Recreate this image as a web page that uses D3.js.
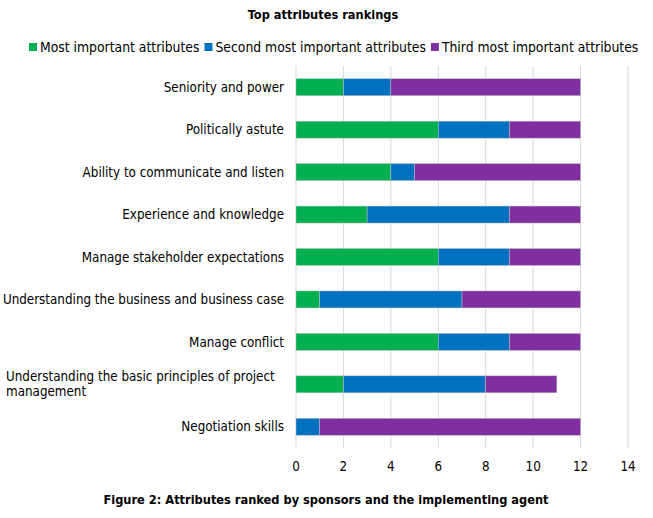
<!DOCTYPE html>
<html>
<head>
<meta charset="utf-8">
<script src="https://cdn.jsdelivr.net/npm/d3@7"></script>
<style>
  body { margin: 0; background: #fff; }
  text { font-family: "DejaVu Sans Condensed", "DejaVu Sans", sans-serif; fill: #000; }
</style>
</head>
<body>
<div id="chart"></div>
<script>
const categories = [
  "Seniority and power",
  "Politically astute",
  "Ability to communicate and listen",
  "Experience and knowledge",
  "Manage stakeholder expectations",
  "Understanding the business and business case",
  "Manage conflict",
  "Understanding the basic principles of project management",
  "Negotiation skills"
];
const seriesNames = ["Most important attributes", "Second most important attributes", "Third most important attributes"];
const most = [2, 6, 4, 3, 6, 1, 6, 2, 0];
const second = [2, 3, 1, 6, 3, 6, 3, 6, 1];
const third = [8, 3, 7, 3, 3, 5, 3, 3, 11];
const xTicks = [0, 2, 4, 6, 8, 10, 12, 14];
const colors = ["#00B050", "#0070C0", "#7F2FA0"];

const width = 653, height = 518;
const margin = {top: 66, right: 25, bottom: 70, left: 296};

const svg = d3.select("#chart").append("svg")
  .attr("width", width).attr("height", height);

const x = d3.scaleLinear().domain([0, 14]).range([margin.left, 628]);
const y = d3.scaleBand().domain(categories).range([margin.top, 448]).paddingInner(0.6).paddingOuter(0.3);

// gridlines
svg.append("g").selectAll("line").data(xTicks).join("line")
  .attr("x1", d => x(d)).attr("x2", d => x(d))
  .attr("y1", margin.top).attr("y2", 448)
  .attr("stroke", "#d9d9d9").attr("stroke-width", 1);

const rows = categories.map((c, i) => ({cat: c, v0: most[i], v1: second[i], v2: third[i]}));
const stack = d3.stack().keys(["v0", "v1", "v2"])(rows);

svg.append("g").selectAll("g").data(stack).join("g")
  .attr("fill", (d, i) => colors[i])
  .selectAll("rect").data(d => d).join("rect")
  .attr("x", d => x(d[0]))
  .attr("width", d => x(d[1]) - x(d[0]))
  .attr("y", d => y(d.data.cat))
  .attr("height", y.bandwidth())
  .attr("stroke", "#bfbfbf").attr("stroke-width", 0.5);

// category labels
const fs = "13.3px";
const labels = svg.append("g");
categories.forEach(c => {
  const cy = y(c) + y.bandwidth() / 2;
  if (c === "Understanding the basic principles of project management") {
    const t = labels.append("text").attr("x", 6).attr("y", cy - 8).style("font-size", fs);
    t.append("tspan").attr("x", 6).attr("dy", "0.35em").text("Understanding the basic principles of project");
    t.append("tspan").attr("x", 6).attr("dy", "1.1em").text("management");
  } else {
    labels.append("text").attr("x", 284).attr("y", cy).attr("dy", "0.35em")
      .attr("text-anchor", "end").style("font-size", fs).text(c);
  }
});

// x tick labels
svg.append("g").selectAll("text").data(xTicks).join("text")
  .attr("x", d => x(d)).attr("y", 466).attr("dy", "0.35em")
  .attr("text-anchor", "middle").style("font-size", fs).text(d => d);

// title
svg.append("text").attr("x", 323).attr("y", 15).attr("dy", "0.35em")
  .attr("text-anchor", "middle").style("font-size", "12.7px").style("font-weight", "bold")
  .text("Top attributes rankings");

// legend, laid out left to right from measured widths
const legend = svg.append("g");
let lx = 29;
seriesNames.forEach((n, i) => {
  legend.append("rect").attr("x", lx).attr("y", 43).attr("width", 8).attr("height", 8).attr("fill", colors[i]);
  const t = legend.append("text").attr("x", lx + 11).attr("y", 47).attr("dy", "0.35em")
    .style("font-size", "13.8px").text(n);
  lx += 11 + t.node().getComputedTextLength() + 5;
});

// caption
svg.append("text").attr("x", 326).attr("y", 500).attr("dy", "0.35em")
  .attr("text-anchor", "middle").style("font-size", "12.7px").style("font-weight", "bold")
  .text("Figure 2: Attributes ranked by sponsors and the implementing agent");
</script>
</body>
</html>
